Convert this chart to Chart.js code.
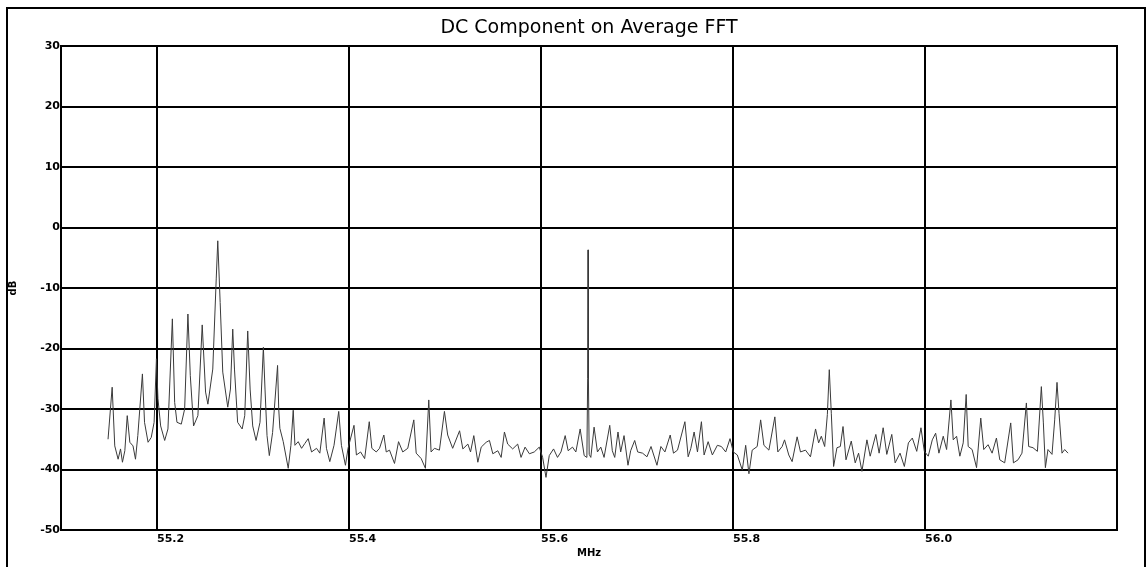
<!DOCTYPE html>
<html>
<head>
<meta charset="utf-8">
<title>DC Component on Average FFT</title>
<script src="https://cdn.jsdelivr.net/npm/chart.js@4.4.0/dist/chart.umd.min.js"></script>
<style>
  html, body { margin: 0; padding: 0; background: #fff; }
  #wrap { position: relative; width: 1148px; height: 567px; }
</style>
</head>
<body>
<div id="wrap"><canvas id="fft" width="1148" height="567"></canvas></div>
<script>
'use strict';

var TITLE = 'DC Component on Average FFT';

// frequency of each trace point (MHz)
var freqMHz = [
  55.1490, 55.1533, 55.1560, 55.1595, 55.1620, 55.1640, 55.1665, 55.1690, 55.1717, 55.1750,
  55.1776, 55.1800, 55.1848, 55.1870, 55.1907, 55.1940, 55.1970, 55.1994, 55.2010, 55.2038,
  55.2080, 55.2114, 55.2160, 55.2184, 55.2208, 55.2253, 55.2288, 55.2322, 55.2347, 55.2381,
  55.2426, 55.2471, 55.2506, 55.2530, 55.2581, 55.2617, 55.2633, 55.2658, 55.2685, 55.2737,
  55.2765, 55.2789, 55.2807, 55.2840, 55.2887, 55.2914, 55.2945, 55.2970, 55.2997, 55.3032,
  55.3073, 55.3108, 55.3125, 55.3146, 55.3170, 55.3204, 55.3256, 55.3268, 55.3280, 55.3315,
  55.3367, 55.3395, 55.3419, 55.3437, 55.3471, 55.3506, 55.3540, 55.3575, 55.3610, 55.3662,
  55.3696, 55.3741, 55.3765, 55.3800, 55.3844, 55.3893, 55.3921, 55.3963, 55.3990, 55.4052,
  55.4077, 55.4121, 55.4163, 55.4211, 55.4238, 55.4284, 55.4318, 55.4363, 55.4388, 55.4422,
  55.4474, 55.4516, 55.4560, 55.4612, 55.4675, 55.4700, 55.4752, 55.4796, 55.4831, 55.4855,
  55.4890, 55.4942, 55.4994, 55.5028, 55.5080, 55.5152, 55.5186, 55.5238, 55.5266, 55.5300,
  55.5342, 55.5377, 55.5429, 55.5463, 55.5498, 55.5550, 55.5585, 55.5619, 55.5653, 55.5705,
  55.5757, 55.5792, 55.5834, 55.5879, 55.5930, 55.5982, 55.6017, 55.6052, 55.6086, 55.6131,
  55.6172, 55.6208, 55.6252, 55.6283, 55.6328, 55.6363, 55.6408, 55.6450, 55.6478, 55.6486,
  55.6490, 55.6494, 55.6502, 55.6519, 55.6553, 55.6588, 55.6623, 55.6657, 55.6716, 55.6743,
  55.6768, 55.6802, 55.6830, 55.6865, 55.6906, 55.6934, 55.6976, 55.7007, 55.7058, 55.7104,
  55.7146, 55.7208, 55.7249, 55.7291, 55.7346, 55.7380, 55.7422, 55.7499, 55.7533, 55.7561,
  55.7595, 55.7630, 55.7671, 55.7699, 55.7741, 55.7785, 55.7837, 55.7879, 55.7924, 55.7969,
  55.8003, 55.8045, 55.8097, 55.8132, 55.8166, 55.8200, 55.8252, 55.8288, 55.8322, 55.8374,
  55.8436, 55.8467, 55.8512, 55.8537, 55.8581, 55.8616, 55.8668, 55.8703, 55.8755, 55.8807,
  55.8860, 55.8892, 55.8920, 55.8955, 55.8983, 55.9003, 55.9024, 55.9048, 55.9083, 55.9118,
  55.9146, 55.9177, 55.9232, 55.9273, 55.9308, 55.9343, 55.9395, 55.9429, 55.9488, 55.9522,
  55.9564, 55.9602, 55.9654, 55.9689, 55.9740, 55.9785, 55.9827, 55.9868, 55.9914, 55.9958,
  55.9993, 56.0034, 56.0076, 56.0111, 56.0145, 56.0190, 56.0225, 56.0270, 56.0294, 56.0329,
  56.0363, 56.0398, 56.0429, 56.0450, 56.0491, 56.0537, 56.0581, 56.0612, 56.0657, 56.0699,
  56.0744, 56.0779, 56.0830, 56.0893, 56.0921, 56.0969, 56.1010, 56.1056, 56.1080, 56.1125,
  56.1171, 56.1212, 56.1233, 56.1254, 56.1281, 56.1323, 56.1351, 56.1375, 56.1396, 56.1427,
  56.1455, 56.1490
];

// level at each of those points (dB)
var levelDb = [
  -35.0, -26.4, -36.1, -38.3, -36.6, -38.8, -36.9, -31.1, -35.5, -36.1,
  -38.3, -34.4, -24.2, -32.2, -35.5, -34.7, -32.2, -21.7, -28.3, -32.8,
  -35.2, -33.3, -15.1, -28.9, -32.2, -32.5, -30.0, -14.3, -24.5, -32.8,
  -31.1, -16.1, -27.2, -29.2, -23.4,  -8.5,  -2.2, -12.4, -23.9, -29.7,
  -26.7, -16.8, -23.4, -32.2, -33.3, -31.1, -17.1, -26.7, -32.8, -35.2,
  -32.2, -19.8, -26.7, -34.4, -37.7, -33.9, -22.8, -30.0, -33.2, -35.4,
  -39.8, -36.0, -30.2, -36.0, -35.4, -36.5, -35.7, -34.9, -37.1, -36.5,
  -37.3, -31.5, -36.5, -38.7, -36.0, -30.4, -36.0, -39.3, -36.5, -32.7,
  -37.6, -37.1, -38.2, -32.1, -36.5, -37.1, -36.5, -34.3, -37.1, -36.8,
  -39.0, -35.4, -37.1, -36.5, -31.8, -37.3, -38.2, -39.8, -28.5, -37.1,
  -36.5, -36.8, -30.4, -34.3, -36.5, -33.6, -36.6, -35.8, -37.1, -34.4,
  -38.8, -36.3, -35.5, -35.2, -37.4, -36.9, -38.0, -33.8, -35.8, -36.6,
  -35.8, -38.0, -36.3, -37.4, -37.1, -36.3, -38.0, -41.3, -37.7, -36.6,
  -38.0, -37.1, -34.4, -36.9, -36.3, -37.1, -33.3, -37.7, -38.0, -25.0,
   -3.7, -25.0, -37.5, -38.0, -33.0, -37.1, -36.3, -38.0, -32.7, -36.9,
  -38.0, -33.8, -37.1, -34.4, -39.3, -36.9, -35.2, -37.1, -37.3, -37.9,
  -36.2, -39.3, -36.2, -37.1, -34.3, -37.3, -36.8, -32.1, -37.9, -36.5,
  -33.8, -37.1, -32.1, -37.6, -35.4, -37.6, -36.0, -36.2, -37.1, -34.9,
  -37.1, -37.6, -40.1, -36.0, -40.7, -36.8, -36.2, -31.8, -36.0, -36.8,
  -31.3, -37.1, -36.2, -35.1, -37.6, -38.7, -34.6, -37.1, -36.8, -37.9,
  -33.3, -35.6, -34.5, -36.2, -30.9, -23.5, -30.7, -39.5, -36.4, -36.2,
  -32.9, -38.4, -35.3, -38.9, -37.3, -40.3, -35.1, -37.8, -34.2, -37.3,
  -33.1, -37.5, -34.2, -38.9, -37.3, -39.5, -35.6, -34.8, -37.0, -33.1,
  -37.0, -37.8, -35.1, -34.0, -37.3, -34.5, -36.7, -28.5, -35.1, -34.5,
  -37.8, -35.6, -27.6, -36.2, -36.7, -39.7, -31.5, -36.7, -35.9, -37.3,
  -34.8, -38.4, -38.9, -32.3, -38.9, -38.4, -37.3, -29.0, -36.2, -36.4,
  -37.0, -26.3, -32.3, -39.7, -36.7, -37.5, -31.8, -25.6, -30.7, -37.3,
  -36.7, -37.3
];

var xTicks = [55.2, 55.4, 55.6, 55.8, 56.0];
var yTicks = [-50, -40, -30, -20, -10, 0, 10, 20, 30];

var points = freqMHz.map(function(f, i) {
  return {x: f, y: levelDb[i]};
});

// outer page border, plot box and the title
var framePlugin = {
  id: 'frame',
  afterDraw: function(chart) {
    var ctx = chart.ctx;
    var a = chart.chartArea;
    ctx.save();
    ctx.strokeStyle = '#000';
    ctx.lineWidth = 2;
    ctx.strokeRect(a.left, a.top, a.right - a.left, a.bottom - a.top);
    ctx.strokeRect(7, 8, 1138, 600);
    ctx.fillStyle = '#000';
    ctx.font = '19px "DejaVu Sans"';
    ctx.textAlign = 'center';
    ctx.textBaseline = 'middle';
    ctx.fillText(TITLE, (a.left + a.right) / 2, 28);
    ctx.restore();
  }
};

var tickFont = {family: '"DejaVu Sans"', size: 11, weight: 'bold'};
var axisFont = {family: '"DejaVu Sans"', size: 10, weight: 'bold'};

new Chart(document.getElementById('fft'), {
  type: 'line',
  data: {
    datasets: [{
      label: 'Average FFT',
      data: points,
      borderColor: '#3a3a3a',
      borderWidth: 1,
      pointRadius: 0,
      tension: 0,
      fill: false
    }]
  },
  options: {
    responsive: false,
    animation: false,
    layout: {padding: {top: 46, right: 31, left: 0, bottom: 0}},
    plugins: {
      legend: {display: false},
      tooltip: {enabled: false}
    },
    scales: {
      x: {
        type: 'linear',
        min: 55.1,
        max: 56.2,
        afterBuildTicks: function(scale) {
          scale.ticks = xTicks.map(function(v) { return {value: v}; });
        },
        afterFit: function(scale) { scale.height = 37; },
        ticks: {
          align: 'start',
          maxRotation: 0,
          padding: 3,
          color: '#000',
          font: tickFont,
          callback: function(v) { return v.toFixed(1); }
        },
        grid: {color: '#000', lineWidth: 2, drawTicks: false},
        border: {color: '#000', width: 2},
        title: {
          display: true,
          text: 'MHz',
          color: '#000',
          font: axisFont,
          padding: {top: 0, bottom: 8}
        }
      },
      y: {
        min: -50,
        max: 30,
        afterBuildTicks: function(scale) {
          scale.ticks = yTicks.map(function(v) { return {value: v}; });
        },
        afterFit: function(scale) { scale.width = 61; },
        ticks: {
          padding: 1,
          color: '#000',
          font: tickFont
        },
        grid: {color: '#000', lineWidth: 2, drawTicks: false},
        border: {color: '#000', width: 2},
        title: {
          display: true,
          text: 'dB',
          color: '#000',
          font: axisFont,
          padding: {top: 7, bottom: 0}
        }
      }
    }
  },
  plugins: [framePlugin]
});
</script>
</body>
</html>
